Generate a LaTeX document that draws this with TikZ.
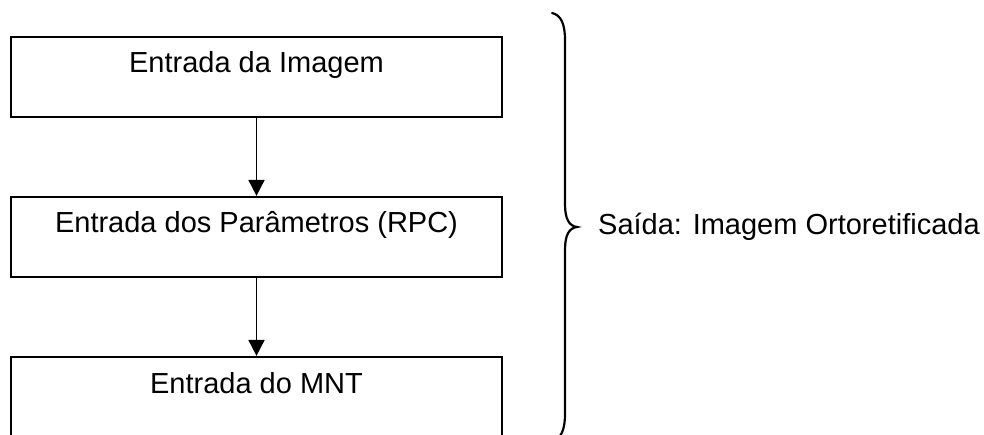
\documentclass[tikz,border=0pt]{standalone}
\usepackage{fontspec}
\setmainfont{Liberation Sans}
\usetikzlibrary{arrows.meta}
\begin{document}
\begin{tikzpicture}[x=1pt,y=-1pt,
  stepbox/.style={draw=black, line width=2.2pt, minimum width=491pt, minimum height=80pt,
    inner sep=0pt, text height=21pt, text depth=29pt, font=\fontsize{29}{34}\selectfont},
  flow/.style={line width=1.8pt, -{Triangle[length=16pt,width=16pt]}},
  bracestyle/.style={line width=2.2pt, line cap=round},
  lbl/.style={font=\fontsize{29}{34}\selectfont, inner sep=0pt}
  ]
\useasboundingbox (0,0) rectangle (984,435);
\fill[white] (0,0) rectangle (984,435);
\clip (0,0) rectangle (984,435);
\node[stepbox] (b1) at (256.5,77) {Entrada da Imagem};
\node[stepbox] (b2) at (256.5,237) {Entrada dos Parâmetros (RPC)};
\node[stepbox] (b3) at (256.5,397) {Entrada do MNT};
\draw[flow] (b1) -- (b2);
\draw[flow] (b2) -- (b3);
\coordinate (bt) at (552,13);
\coordinate (tip) at (577,227);
\coordinate (bb) at (552,441);
\draw[bracestyle] (bt) .. controls (561,15) and (565,24) .. (565,40) -- (565,204)
  .. controls (565,219) and (569,226) .. (tip)
  .. controls (569,228) and (565,235) .. (565,250) -- (565,414)
  .. controls (565,430) and (561,439) .. (bb);
\node[lbl, anchor=base west] (out) at (598,235) {Saída: Imagem Ortoretificada};
\end{tikzpicture}
\end{document}
